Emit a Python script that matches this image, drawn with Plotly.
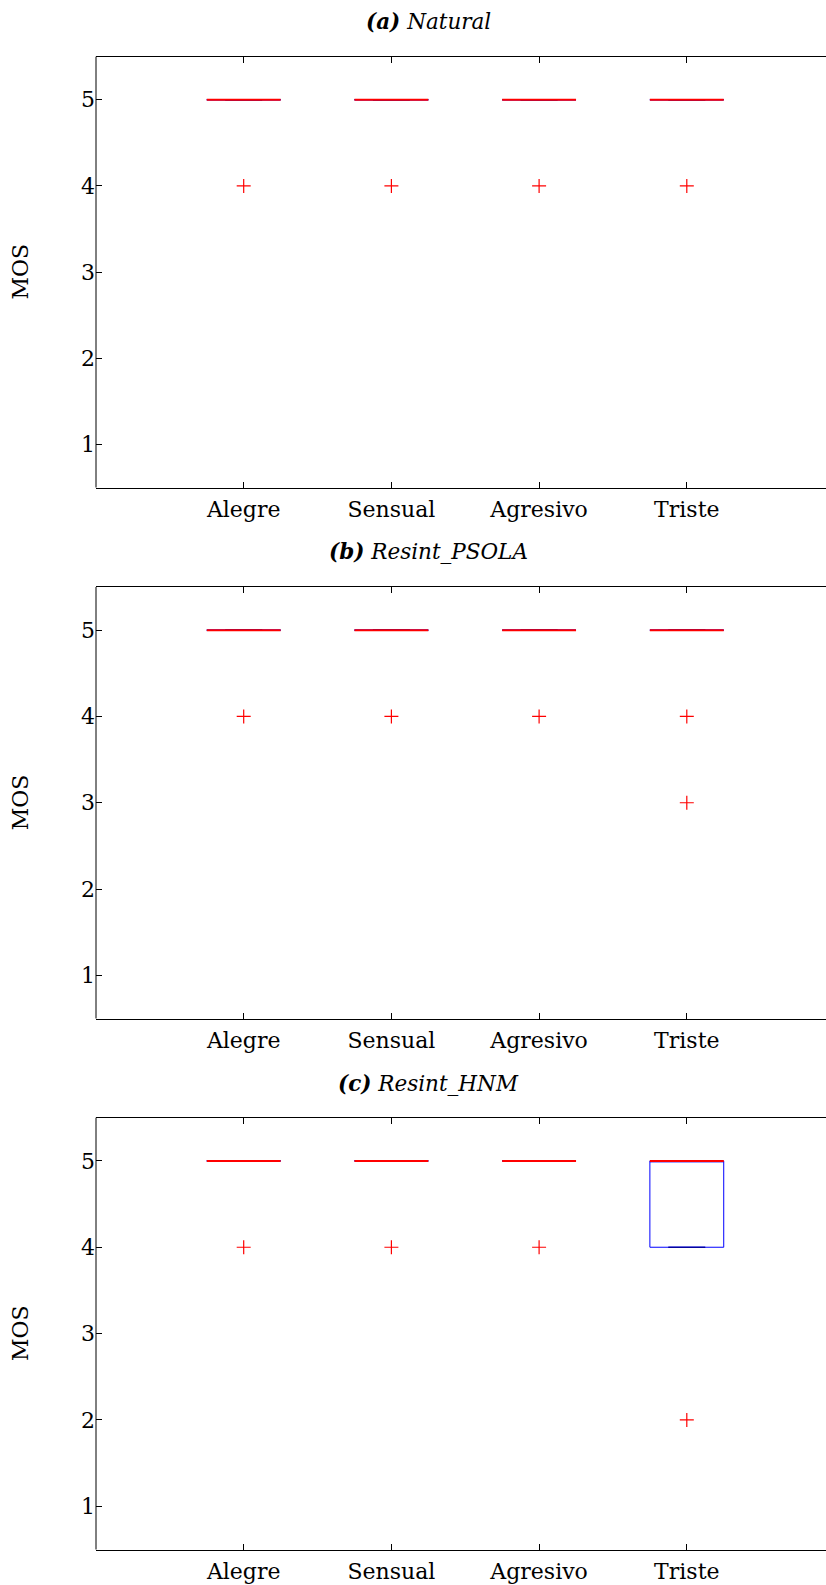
import plotly.graph_objects as go

# ---------------- data ----------------
categories = ["Alegre", "Sensual", "Agresivo", "Triste"]
positions = [1, 2, 3, 4]

panel_titles = ["<b><i>(a)</i></b> <i>Natural</i>",
                "<b><i>(b)</i></b> <i>Resint_PSOLA</i>",
                "<b><i>(c)</i></b> <i>Resint_HNM</i>"]

nat_q1 = [5, 5, 5, 5]
nat_median = [5, 5, 5, 5]
nat_q3 = [5, 5, 5, 5]
nat_low = [5, 5, 5, 5]
nat_high = [5, 5, 5, 5]
nat_outliers = [[4], [4], [4], [4]]

psola_q1 = [5, 5, 5, 5]
psola_median = [5, 5, 5, 5]
psola_q3 = [5, 5, 5, 5]
psola_low = [5, 5, 5, 5]
psola_high = [5, 5, 5, 5]
psola_outliers = [[4], [4], [4], [4, 3]]

hnm_q1 = [5, 5, 5, 4]
hnm_median = [5, 5, 5, 5]
hnm_q3 = [5, 5, 5, 5]
hnm_low = [5, 5, 5, 4]
hnm_high = [5, 5, 5, 5]
hnm_outliers = [[4], [4], [4], [2]]

panels = [
    (nat_q1, nat_median, nat_q3, nat_low, nat_high, nat_outliers),
    (psola_q1, psola_median, psola_q3, psola_low, psola_high, psola_outliers),
    (hnm_q1, hnm_median, hnm_q3, hnm_low, hnm_high, hnm_outliers),
]

# ---------------- layout geometry ----------------
W, H = 826, 1585
LEFT = 96
RIGHT = 0
BOX_W = 0.5
CAP_W = 0.25
panel_px = [(56.7, 487.5), (587.0, 1018.5), (1117.7, 1549.5)]
title_px_y = [21.5, 552.0, 1083.0]
title_px_x = 428.7
mos_px_x = 20.5
x_unit_px = 147.7
PW = W - LEFT - RIGHT
x_max = PW / x_unit_px

FONT = "DejaVu Serif"
TICK_SIZE = 22
TITLE_SIZE = 21.5

fig = go.Figure()

for i, (q1, med, q3, low, high, outl) in enumerate(panels):
    xa = "x" if i == 0 else f"x{i+1}"
    ya = "y" if i == 0 else f"y{i+1}"
    fig.add_trace(go.Box(
        x=positions, q1=q1, median=med, q3=q3, lowerfence=low, upperfence=high,
        width=BOX_W, whiskerwidth=0.5,
        line=dict(color="blue", width=1), fillcolor="rgba(0,0,0,0)",
        boxpoints=False, showlegend=False, hoverinfo="skip",
        xaxis=xa, yaxis=ya,
    ))
    cx, cy = [], []
    for p, lo, hi in zip(positions, low, high):
        for v in (lo, hi):
            cx += [p - CAP_W / 2, p + CAP_W / 2, None]
            cy += [v, v, None]
    fig.add_trace(go.Scatter(x=cx, y=cy, mode="lines",
                             line=dict(color="#00007a", width=1),
                             showlegend=False, hoverinfo="skip",
                             xaxis=xa, yaxis=ya))
    mx, my = [], []
    for p, m in zip(positions, med):
        mx += [p - BOX_W / 2, p + BOX_W / 2, None]
        my += [m, m, None]
    fig.add_trace(go.Scatter(x=mx, y=my, mode="lines",
                             line=dict(color="red", width=2),
                             showlegend=False, hoverinfo="skip",
                             xaxis=xa, yaxis=ya))
    ox, oy = [], []
    for p, vals in zip(positions, outl):
        for v in vals:
            ox.append(p)
            oy.append(v)
    fig.add_trace(go.Scatter(x=ox, y=oy, mode="markers",
                             marker=dict(symbol="cross-thin", size=10,
                                         line=dict(color="red", width=1.2),
                                         color="red"),
                             showlegend=False, hoverinfo="skip",
                             xaxis=xa, yaxis=ya))

layout = dict(
    width=W, height=H,
    margin=dict(l=LEFT, r=RIGHT, t=0, b=0),
    paper_bgcolor="white", plot_bgcolor="white",
    font=dict(family=FONT, size=TICK_SIZE, color="black"),
    annotations=[], shapes=[],
)

for i in range(3):
    top, bot = panel_px[i]
    xkey = "xaxis" if i == 0 else f"xaxis{i+1}"
    ykey = "yaxis" if i == 0 else f"yaxis{i+1}"
    ya = "y" if i == 0 else f"y{i+1}"
    xa = "x" if i == 0 else f"x{i+1}"
    layout[xkey] = dict(
        domain=[0, 1], anchor=ya, range=[0, x_max],
        tickmode="array", tickvals=positions, ticktext=categories,
        showline=True, linecolor="black", linewidth=1, mirror="ticks",
        ticks="inside", ticklen=6, tickcolor="black", tickwidth=1,
        showgrid=False, zeroline=False, ticklabelstandoff=2,
        tickfont=dict(family=FONT, size=TICK_SIZE, color="black"),
    )
    layout[ykey] = dict(
        domain=[1 - bot / H, 1 - top / H], anchor=xa, range=[0.5, 5.5],
        tickmode="array", tickvals=[1, 2, 3, 4, 5],
        showline=False, mirror=False,
        ticks="inside", ticklen=6, tickcolor="black", tickwidth=1,
        showgrid=False, zeroline=False,
        tickfont=dict(family=FONT, size=TICK_SIZE, color="black"),
    )
    # left spine
    layout["shapes"].append(dict(
        type="line", xref=f"{xa} domain", yref=f"{ya} domain",
        x0=0, x1=0, y0=0, y1=1, line=dict(color="black", width=1),
        layer="above",
    ))
    layout["annotations"].append(dict(
        text=panel_titles[i], xref="paper", yref="paper",
        x=(title_px_x - LEFT) / PW, y=1 - title_px_y[i] / H,
        xanchor="center", yanchor="middle", showarrow=False,
        font=dict(family=FONT, size=TITLE_SIZE, color="black"),
    ))
    layout["annotations"].append(dict(
        text="MOS", xref="paper", yref="paper",
        x=(mos_px_x - LEFT) / PW, y=1 - (top + bot) / 2 / H,
        xanchor="center", yanchor="middle", showarrow=False, textangle=-90,
        font=dict(family=FONT, size=TICK_SIZE, color="black"),
    ))

fig.update_layout(**layout)
fig.write_html("out.html", config={"displayModeBar": False},
               post_script="document.body.style.margin='0';"
                           "document.body.style.overflow='hidden';")
